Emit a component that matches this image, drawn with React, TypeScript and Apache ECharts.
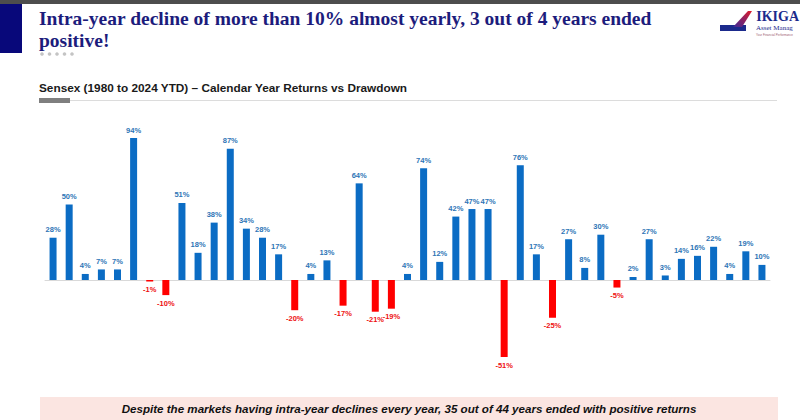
import React, { useEffect, useRef } from "react";
import * as echarts from "echarts";

const years = [
  "1980", "1981", "1982", "1983", "1984", "1985", "1986", "1987", "1988", "1989",
  "1990", "1991", "1992", "1993", "1994", "1995", "1996", "1997", "1998", "1999",
  "2000", "2001", "2002", "2003", "2004", "2005", "2006", "2007", "2008", "2009",
  "2010", "2011", "2012", "2013", "2014", "2015", "2016", "2017", "2018", "2019",
  "2020", "2021", "2022", "2023", "2024",
];

const returns = [
  28, 50, 4, 7, 7, 94, -1, -10, 51, 18,
  38, 87, 34, 28, 17, -20, 4, 13, -17, 64,
  -21, -19, 4, 74, 12, 42, 47, 47, -51, 76,
  17, -25, 27, 8, 30, -5, 2, 27, 3, 14,
  16, 22, 4, 19, 10,
];

const titleLines = [
  "Intra-year decline of more than 10% almost yearly, 3 out of 4 years ended",
  "positive!",
];
const subtitle = "Sensex (1980 to 2024 YTD) \u2013 Calendar Year Returns vs Drawdown";
const footnote =
  "Despite the markets having intra-year declines every year, 35 out of 44 years ended with positive returns";

const BLUE = "#0b6cc4";
const RED = "#ff0000";

export default function App() {
  const ref = useRef<HTMLDivElement>(null);
  useEffect(() => {
    document.body.style.margin = "0";
    const chart = echarts.init(ref.current!, null, { renderer: "svg" });
    const data = returns.map((v) => ({
      value: v,
      itemStyle: { color: v >= 0 ? BLUE : RED },
      label: {
        position: v >= 0 ? "top" : "bottom",
        color: v >= 0 ? "#2e75b6" : "#ee1111",
      },
    }));
    chart.setOption({
      animation: false,
      backgroundColor: "#ffffff",
      grid: { left: 45, right: 30, top: 129, height: 241.6 },
      xAxis: {
        type: "category",
        data: years,
        axisLine: { show: true, lineStyle: { color: "#d9d9d9", width: 1 } },
        axisTick: { show: false },
        axisLabel: { show: false },
      },
      yAxis: {
        type: "value",
        min: -60,
        max: 100,
        show: false,
        splitLine: { show: false },
      },
      series: [
        {
          type: "bar",
          data,
          barWidth: 7,
          label: {
            show: true,
            formatter: (p: any) => `${p.value}%`,
            fontSize: 7.5,
            fontWeight: "bold",
            fontFamily: "Liberation Sans, Arial, sans-serif",
            distance: 4,
          },
        },
      ],
      graphic: [
        { type: "rect", shape: { x: 0, y: 0, width: 800, height: 4 }, style: { fill: "#4d4d4d" } },
        { type: "rect", shape: { x: 0, y: 4, width: 22, height: 49 }, style: { fill: "#08087a" } },
        {
          type: "text",
          x: 39,
          y: 18,
          style: {
            text: titleLines[0],
            font: "bold 19.5px 'Liberation Serif', 'Times New Roman', serif",
            fill: "#1c1c7c",
            textVerticalAlign: "middle",
          },
        },
        {
          type: "text",
          x: 39,
          y: 40,
          style: {
            text: titleLines[1],
            font: "bold 19.5px 'Liberation Serif', 'Times New Roman', serif",
            fill: "#1c1c7c",
            textVerticalAlign: "middle",
          },
        },
        ...[0, 1, 2, 3, 4].map((i) => ({
          type: "circle",
          shape: { cx: 42 + i * 7.5, cy: 54, r: 1.8 },
          style: { fill: "#c4c4c4" },
        })),
        {
          type: "text",
          x: 39,
          y: 88,
          style: {
            text: subtitle,
            font: "bold 11.8px 'Liberation Sans', Arial, sans-serif",
            fill: "#1a1a1a",
            textVerticalAlign: "middle",
          },
        },
        { type: "line", shape: { x1: 70, y1: 100.5, x2: 777, y2: 100.5 }, style: { stroke: "#dcdcdc", lineWidth: 1 } },
        { type: "rect", shape: { x: 39, y: 98, width: 31, height: 5 }, style: { fill: "#7f7f7f" } },
        // logo
        { type: "rect", shape: { x: 720, y: 25, width: 26, height: 6 }, style: { fill: "#1b2a8c" } },
        {
          type: "polygon",
          shape: { points: [[733, 27], [748, 11], [752, 11], [742, 27]] },
          style: {
            fill: new echarts.graphic.LinearGradient(0, 1, 1, 0, [
              { offset: 0, color: "#3a2a9a" },
              { offset: 1, color: "#e01b2a" },
            ]),
          },
        },
        {
          type: "text",
          x: 799,
          y: 16,
          style: {
            text: "IKIGA",
            font: "bold 14px 'Liberation Serif', serif",
            fill: "#1b2a8c",
            textAlign: "right",
            textVerticalAlign: "middle",
          },
        },
        {
          type: "text",
          x: 756,
          y: 28,
          style: {
            text: "Asset Manag",
            font: "7px 'Liberation Serif', serif",
            fill: "#1b2a8c",
            textVerticalAlign: "middle",
          },
        },
        {
          type: "text",
          x: 756,
          y: 35,
          style: {
            text: "Your Financial Performance",
            font: "3px 'Liberation Sans', sans-serif",
            fill: "#a06070",
            textVerticalAlign: "middle",
          },
        },
        { type: "rect", shape: { x: 40, y: 397, width: 738, height: 23 }, style: { fill: "#fbe5e1" } },
        {
          type: "text",
          x: 409,
          y: 408,
          style: {
            text: footnote,
            font: "italic bold 11.6px 'Liberation Sans', Arial, sans-serif",
            fill: "#111111",
            textAlign: "center",
            textVerticalAlign: "middle",
          },
        },
      ],
    });
    return () => chart.dispose();
  }, []);
  return (
    <div
      ref={ref}
      style={{ position: "absolute", left: 0, top: 0, width: 800, height: 420 }}
    />
  );
}
